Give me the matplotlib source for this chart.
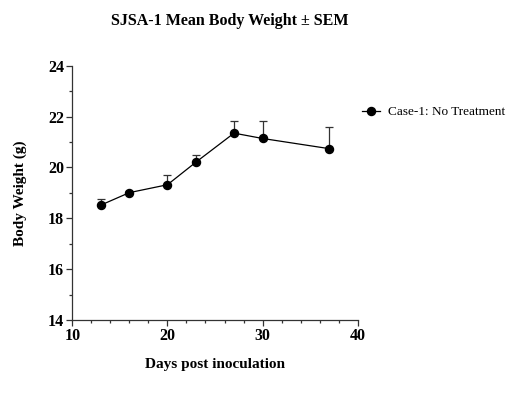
import matplotlib
matplotlib.use("Agg")
import matplotlib.pyplot as plt
from matplotlib.ticker import MultipleLocator
from matplotlib.lines import Line2D

days = [13, 16, 20, 23, 27, 30, 37]
mean_weight = [18.52, 19.01, 19.32, 20.21, 21.35, 21.14, 20.74]
sem = [0.23, 0.05, 0.38, 0.28, 0.47, 0.68, 0.86]
series_label = "Case-1: No Treatment"

plt.rcParams['font.family'] = ['Liberation Serif', 'DejaVu Serif']

fig = plt.figure(figsize=(5.11, 4.01), dpi=100)
ax = fig.add_axes([0.1415, 0.202, 0.5585, 0.634])

ax.errorbar(days, mean_weight, yerr=[[0]*len(sem), sem], color='black',
            ecolor='#333333', elinewidth=0.9, capsize=3, capthick=0.9,
            lw=0.9, marker='o', markersize=5.8)

ax.set_xlim(10, 40)
ax.set_ylim(14, 24)
ax.xaxis.set_major_locator(MultipleLocator(10))
ax.xaxis.set_minor_locator(MultipleLocator(2))
ax.yaxis.set_major_locator(MultipleLocator(2))
ax.yaxis.set_minor_locator(MultipleLocator(1))
for s in ['top', 'right']:
    ax.spines[s].set_visible(False)
for s in ['left', 'bottom']:
    ax.spines[s].set_linewidth(0.9)
    ax.spines[s].set_color('#333333')
ax.tick_params(which='major', length=4, width=0.9, color='#333333', labelsize=11.5, pad=2)
ax.tick_params(which='minor', length=2.5, width=0.9, color='#333333')
for lbl in ax.get_xticklabels() + ax.get_yticklabels():
    lbl.set_fontweight('bold')

ax.set_xlabel("Days post inoculation", fontsize=11, fontweight='bold', labelpad=10)
ax.set_ylabel("Body Weight (g)", fontsize=11, fontweight='bold', labelpad=15)
fig.text(0.45, 0.947, "SJSA-1 Mean Body Weight \u00b1 SEM", ha='center', va='center',
         fontsize=11.5, fontweight='bold')

handle = Line2D([], [], color='black', lw=0.9, marker='o', markersize=5.8)
ax.legend([handle], [series_label], loc='center left', bbox_to_anchor=(1.015, 0.818),
          frameon=False, fontsize=9.5, handlelength=1.4, handletextpad=0.6,
          borderaxespad=0, borderpad=0)

fig.savefig("out.png", dpi=100)
